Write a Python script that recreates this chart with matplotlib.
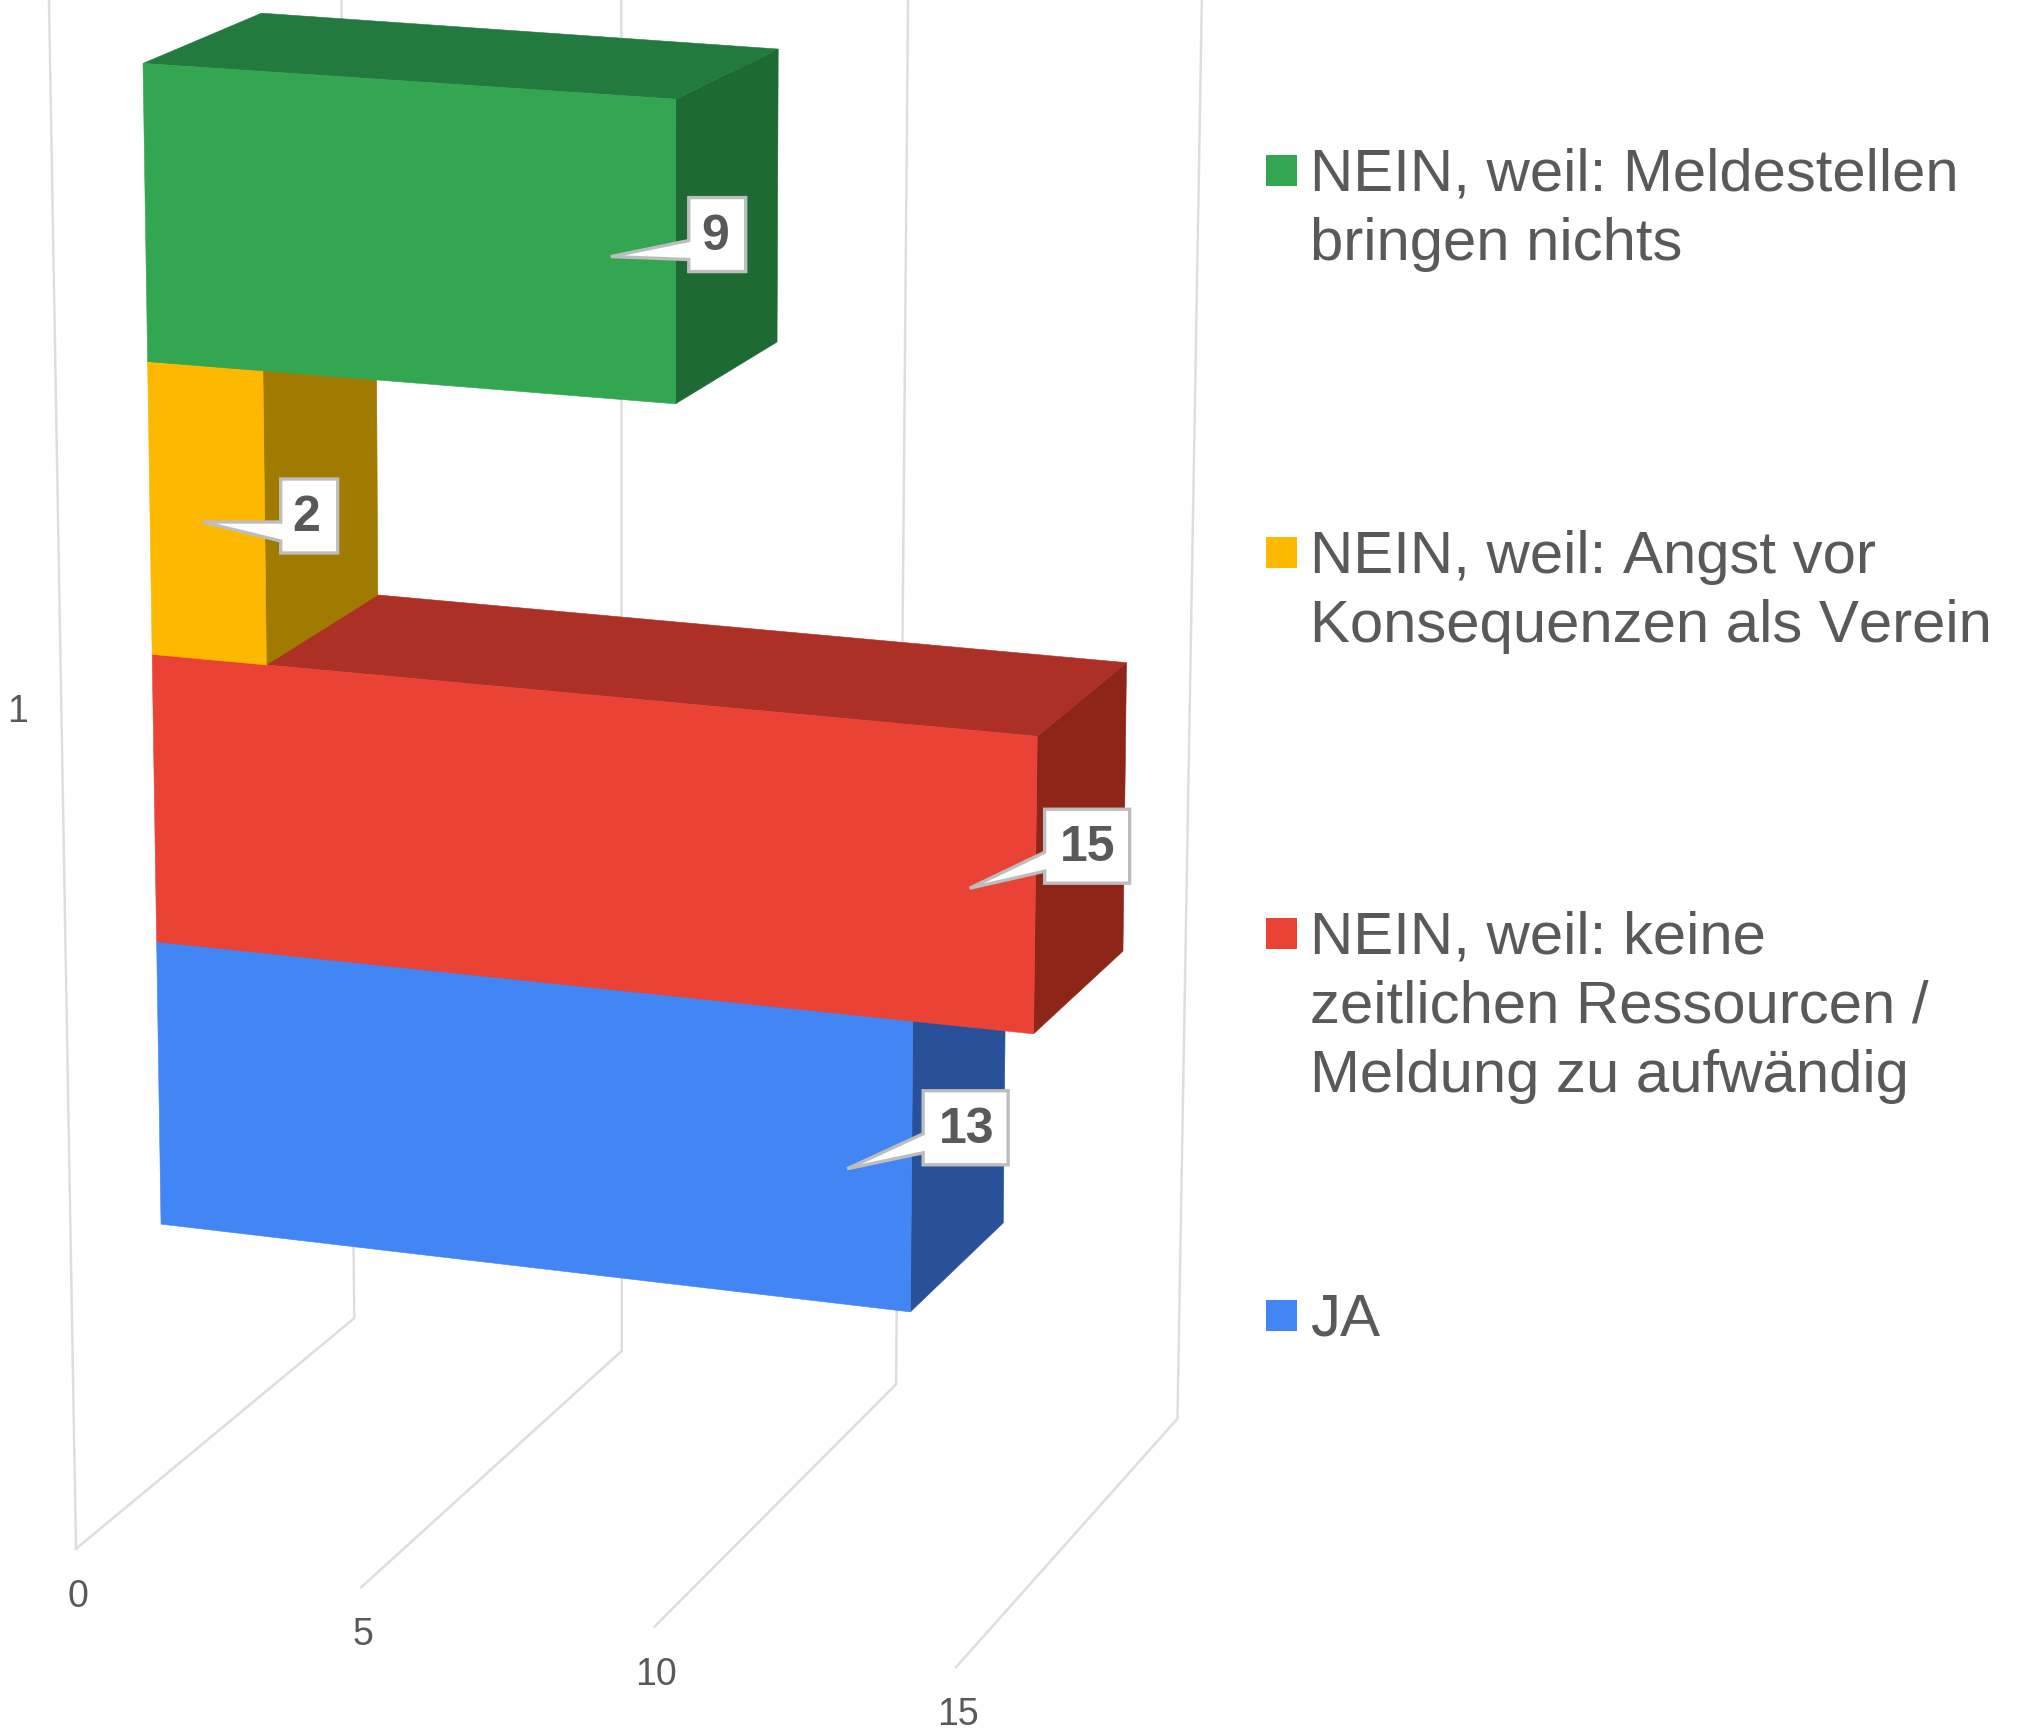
import numpy as np
import matplotlib
matplotlib.use("Agg")
import matplotlib.pyplot as plt
from matplotlib.patches import Polygon, Rectangle

plt.rcParams['font.family'] = ['Liberation Sans', 'DejaVu Sans']
plt.rcParams['text.kerning_factor'] = 20

# ---------- data ----------
series_names = ["JA",
                "NEIN, weil: keine\nzeitlichen Ressourcen /\nMeldung zu aufwändig",
                "NEIN, weil: Angst vor\nKonsequenzen als Verein",
                "NEIN, weil: Meldestellen\nbringen nichts"]
series_values = [13, 15, 2, 9]
value_ticks = [0, 5, 10, 15]
category_label = "1"

# ---------- styles ----------
front_colors = ["#4285F4", "#EA4335", "#FDB900", "#33A652"]
side_colors = ["#28519A", "#8D2519", "#A17A00", "#1E6A33"]
top_colors = ["#2E5DAB", "#AD3027", "#B58A00", "#237A3E"]
GRID = "#DEDEDE"
TEXT = "#595959"
BOX_EDGE = "#BDBDBD"

S = 2020 / 1568  # anchors below are read in the 1568-wide view


def homography(src, dst):
    A, b = [], []
    for (u, v), (x, y) in zip(src, dst):
        A.append([u, v, 1, 0, 0, 0, -u * x, -v * x]); b.append(x)
        A.append([0, 0, 0, u, v, 1, -u * y, -v * y]); b.append(y)
    h = np.linalg.solve(np.array(A, float), np.array(b, float))
    H = np.append(h, 1).reshape(3, 3)

    def f(u, v):
        p = H @ np.array([u, v, 1.0])
        return p[0] / p[2], p[1] / p[2]
    return f


corners = [(0, 0), (0, 4), (15, 0), (15, 4)]
front = homography(corners, [(125 * S, 951 * S), (111 * S, 50 * S), (799.5 * S, 1030 * S), (811 * S, 97 * S)])
back = homography(corners, [(210 * S, 887 * S), (203 * S, 11 * S), (869 * S, 960 * S), (880 * S, 58 * S)])
wall_c = [(0, 0), (0, 1), (15, 0), (15, 1)]
floor = homography(wall_c, [(59 * S, 1203 * S), (275 * S, 1024 * S), (742 * S, 1295 * S), (914 * S, 1102 * S)])

fig = plt.figure(figsize=(20.2, 17.31), dpi=100, facecolor="white")
ax = fig.add_axes([0, 0, 1, 1])
ax.set_xlim(0, 2020)
ax.set_ylim(1731, 0)
ax.axis("off")

# ---------- grid ----------
lw_grid = 1.8
ax.plot([59 * S, 38 * S], [1203 * S, 0], color=GRID, lw=lw_grid, zorder=1)
for t in value_ticks:
    p0, p1 = floor(t, 0), floor(t, 1)
    top_x = p1[0] + (-10 + 1.93 * t) * S
    ax.plot([p0[0], p1[0], top_x], [p0[1], p1[1], 0], color=GRID, lw=lw_grid,
            solid_joinstyle="miter", zorder=1)
    ax.text(p0[0] + 2, p0[1] + 47, str(t), ha="center", va="center", fontsize=27, color=TEXT)
ax.text(14 * S, 553 * S, category_label, ha="center", va="center", fontsize=27, color=TEXT)

# ---------- bars ----------
z = 2
for i, (v, fc, sc, tc) in enumerate(zip(series_values, front_colors, side_colors, top_colors)):
    lo, hi = i, i + 1
    for pts, col in (
        ([front(v, lo), back(v, lo), back(v, hi), front(v, hi)], sc),
        ([front(0, hi), back(0, hi), back(v, hi), front(v, hi)], tc),
        ([front(0, lo), front(v, lo), front(v, hi), front(0, hi)], fc),
    ):
        ax.add_patch(Polygon(pts, closed=True, facecolor=col, edgecolor=col, lw=0.4, zorder=z))
        z += 1

# ---------- callouts ----------
box_offsets = [(76, -78), (75, -79), (78, -43), (78, -59)]
for i, (v, off) in enumerate(zip(series_values, box_offsets)):
    tx, ty = front(v - 1.08, i + 0.47)
    w = 57 if v < 10 else 85
    h = 74
    bx, by = tx + off[0], ty + off[1]
    poly = [(bx, by), (bx + w, by), (bx + w, by + h), (bx, by + h),
            (bx, by + 62), (tx, ty), (bx, by + 43)]
    ax.add_patch(Polygon(poly, closed=True, facecolor="white", edgecolor=BOX_EDGE, lw=2.4,
                         joinstyle="miter", zorder=30))
    nudge = -3 if v < 10 else 0
    ax.text(bx + w / 2 + 0.5 + nudge, by + h / 2 + 1, str(v), ha="center", va="center", fontsize=36,
            fontweight="bold", color=TEXT, zorder=31)

# ---------- legend ----------
legend_first_baseline = [1336, 954, 573, 191]
for name, col, base in zip(series_names, front_colors, legend_first_baseline):
    ax.add_patch(Rectangle((1266, base - 35), 31, 31, facecolor=col, edgecolor="none", zorder=5))
    for k, line in enumerate(name.split("\n")):
        ax.text(1310, base + k * 69, line, ha="left", va="baseline", fontsize=43.2, color=TEXT)

fig.savefig("out.png", dpi=100, facecolor="white")
